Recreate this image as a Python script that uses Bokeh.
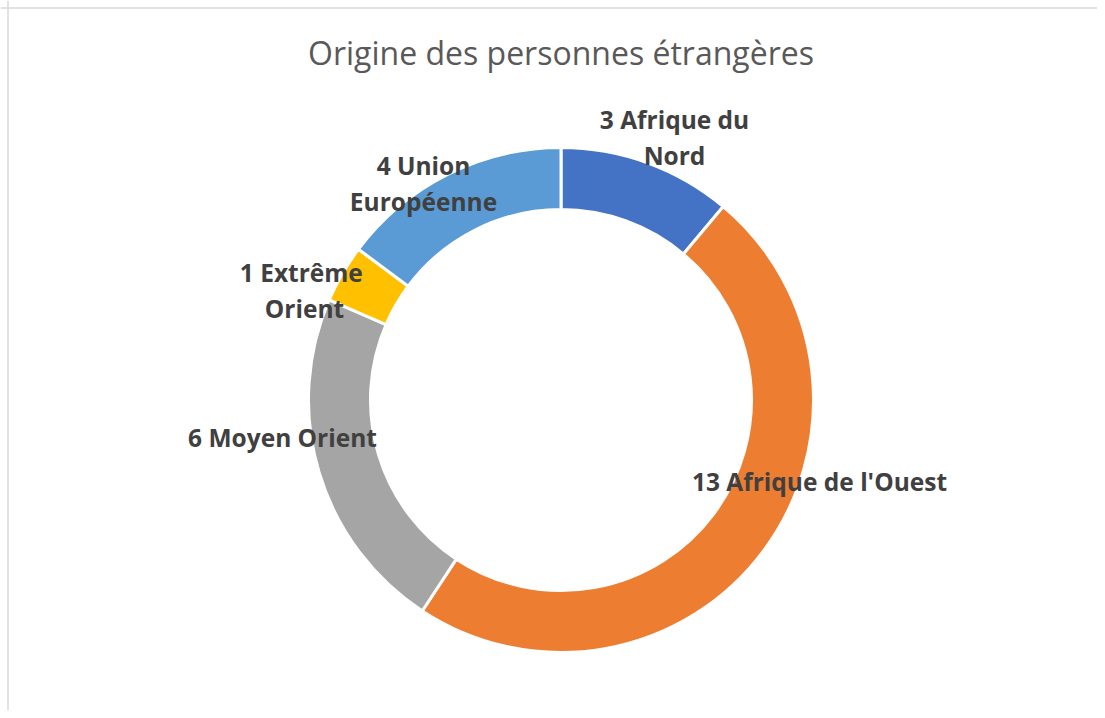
import math
from bokeh.plotting import figure
from bokeh.models import Range1d, Span, Label, ColumnDataSource
from bokeh.core.properties import value
from bokeh.embed import file_html
from bokeh.resources import INLINE

# ---- data ----
categories = ["Afrique du Nord", "Afrique de l'Ouest", "Moyen Orient", "Extrême Orient", "Union Européenne"]
counts = [3, 13, 6, 1, 4]
# label text as displayed (line breaks as in the reference)
label_lines = [["3 Afrique du", "Nord"],
               ["13 Afrique de l'Ouest"],
               ["6 Moyen Orient"],
               ["1  Extrême", "Orient"],
               ["4 Union", "Européenne"]]
title_text = "Origine des personnes étrangères"

# ---- style ----
colors = ["#4472C4", "#ED7D31", "#A5A5A5", "#FFC000", "#5B9BD5"]
W, H = 1097, 710
CX, CY = 560.5, H - 399.5
R_OUT, R_IN = 252.5, 190.5
# label block centres, relative to the ring centre (pixels, y up)
label_offsets = [(113.5, 262.5), (258.5, -81.5), (-278.5, -37.5), (-256.5, 109.5), (-137.5, 216.5)]
LINE_H = 36

p = figure(width=W, height=H, output_backend="svg", toolbar_location=None,
           x_range=Range1d(0, W), y_range=Range1d(0, H), min_border=0)
p.axis.visible = False
p.grid.visible = False
p.outline_line_color = None
p.background_fill_color = "white"
p.border_fill_color = "white"

total = sum(counts)
starts, ends = [], []
cum = 0.0
for c in counts:
    a0 = cum / total * 2 * math.pi
    cum += c
    a1 = cum / total * 2 * math.pi
    # clockwise from 12 o'clock -> bokeh angles
    starts.append(math.pi / 2 - a0)
    ends.append(math.pi / 2 - a1)

src = ColumnDataSource(dict(x=[CX] * len(counts), y=[CY] * len(counts),
                            start=starts, end=ends, color=colors))
p.annular_wedge(x="x", y="y", inner_radius=R_IN, outer_radius=R_OUT,
                start_angle="start", end_angle="end", direction="clock",
                fill_color="color", line_color="white", line_width=3, source=src)

tx, ty, tt = [], [], []
for lines, (dx, dy) in zip(label_lines, label_offsets):
    n = len(lines)
    for i, s in enumerate(lines):
        tx.append(CX + dx)
        ty.append(CY + dy + ((n - 1) / 2 - i) * LINE_H)
        tt.append(s)
p.text(x=tx, y=ty, text=tt, text_font=value("Open Sans"), text_font_style="bold",
       text_font_size="24.5px", text_color="#404040", text_align="center",
       text_baseline="middle")

p.add_layout(Label(x=CX, y=H - 52, text=title_text, text_font="Open Sans",
                   text_font_size="32px", text_color="#595959", text_align="center",
                   text_baseline="middle"))

p.add_layout(Span(location=H - 7.5, dimension="width", line_color="#d9d9d9", line_width=1.5))
p.add_layout(Span(location=7.5, dimension="height", line_color="#d9d9d9", line_width=1.5))

open("out.html", "w").write(file_html(p, INLINE))
